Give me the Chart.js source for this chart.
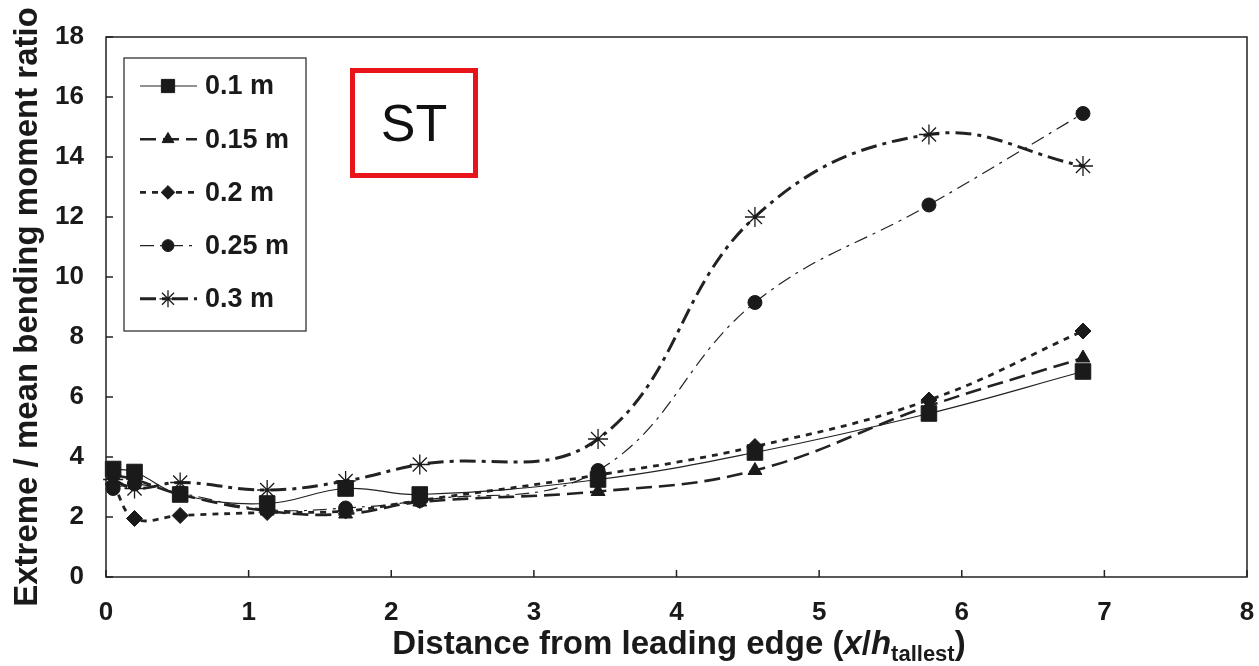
<!DOCTYPE html>
<html>
<head>
<meta charset="utf-8">
<script src="https://cdn.jsdelivr.net/npm/chart.js@4.4.0/dist/chart.umd.min.js"></script>
<style>
    html, body { margin: 0; padding: 0; background: #fff; }
    #contenedor { position: relative; width: 1259px; height: 666px; }
    #xtitulo {
        position: absolute; left: 106px; width: 1146px; top: 624px;
        text-align: center; line-height: 36px;
        font: bold 33px "Liberation Sans", Arial, sans-serif; color: #1a1a1a;
    }
    #xtitulo sub { font-size: 22px; position: relative; top: 7px; vertical-align: baseline; }
    #etiquetaST {
        position: absolute; left: 350px; top: 68px; width: 128px; height: 110px;
        box-sizing: border-box; border: 5px solid #e8141a;
        display: flex; align-items: center; justify-content: center;
        font: 52px "Liberation Sans", Arial, sans-serif; color: #111;
    }
</style>
</head>
<body>
<div id="contenedor">
    <canvas id="grafica" width="1259" height="666"></canvas>
    <div id="xtitulo">Distance from leading edge (<i>x</i>/<i>h</i><sub>tallest</sub>)</div>
    <div id="etiquetaST">ST</div>
</div>
<script>
// Datos
const distancias = [0.05, 0.2, 0.52, 1.13, 1.68, 2.2, 3.45, 4.55, 5.77, 6.85];
const serie01 = [3.6, 3.5, 2.75, 2.45, 2.95, 2.75, 3.25, 4.15, 5.45, 6.85];
const serie015 = [3.4, 3.25, 2.75, 2.2, 2.1, 2.5, 2.85, 3.55, 5.7, 7.3];
const serie02 = [3.1, 1.95, 2.05, 2.15, 2.2, 2.55, 3.4, 4.35, 5.9, 8.2];
const serie025 = [2.95, 3.1, 2.8, 2.25, 2.3, 2.55, 3.55, 9.15, 12.4, 15.45];
const serie03 = [3.25, 2.95, 3.15, 2.9, 3.2, 3.75, 4.6, 12.0, 14.75, 13.7];
const etiquetas = ['0.1 m', '0.15 m', '0.2 m', '0.25 m', '0.3 m'];
const ticksX = [0, 1, 2, 3, 4, 5, 6, 7, 8];
const ticksY = [0, 2, 4, 6, 8, 10, 12, 14, 16, 18];

const fuente = '"Liberation Sans", Arial, sans-serif';
Chart.defaults.font.family = fuente;
Chart.defaults.color = '#1a1a1a';

const estilos = [
    { punto: 'rect', radio: 11, ancho: 1.2, guiones: [], borde: 1 },
    { punto: 'triangle', radio: 8, ancho: 2.6, guiones: [16, 7], borde: 1 },
    { punto: 'rectRot', radio: 8, ancho: 2.8, guiones: [6, 6], borde: 1 },
    { punto: 'circle', radio: 7, ancho: 1.2, guiones: [14, 6, 3, 6], borde: 1 },
    { punto: 'star', radio: 10, ancho: 3, guiones: [16, 6, 4, 6], borde: 1.3 }
];
const series = [serie01, serie015, serie02, serie025, serie03];

const conjuntos = series.map((valores, i) => ({
    label: etiquetas[i],
    data: distancias.map((d, k) => ({ x: d, y: valores[k] })),
    borderColor: '#222',
    backgroundColor: '#1a1a1a',
    borderWidth: estilos[i].ancho,
    borderDash: estilos[i].guiones,
    pointStyle: estilos[i].punto,
    pointRadius: estilos[i].radio,
    pointBorderWidth: estilos[i].borde,
    pointBorderColor: '#1a1a1a',
    pointBackgroundColor: '#1a1a1a',
    tension: 0.4,
    clip: false
}));

const marcoPlugin = {
    id: 'marco',
    afterDraw(chart) {
        const { ctx, chartArea: a, scales } = chart;
        ctx.save();
        ctx.strokeStyle = '#222';
        ctx.lineWidth = 1.5;
        ctx.setLineDash([]);
        ctx.strokeRect(a.left, a.top, a.right - a.left, a.bottom - a.top);

        // marcas hacia dentro
        ctx.beginPath();
        ticksX.forEach(v => {
            const px = scales.x.getPixelForValue(v);
            ctx.moveTo(px, a.bottom);
            ctx.lineTo(px, a.bottom - 7);
        });
        ticksY.forEach(v => {
            const py = scales.y.getPixelForValue(v);
            ctx.moveTo(a.left, py);
            ctx.lineTo(a.left + 7, py);
        });
        ctx.stroke();

        // leyenda
        const lx = a.left + 18, ly = a.top + 21;
        ctx.lineWidth = 1.3;
        ctx.strokeStyle = '#333';
        ctx.strokeRect(lx, ly, 182, 273);
        etiquetas.forEach((texto, i) => {
            const cy = ly + 28 + i * 53.2;
            const e = estilos[i];
            ctx.strokeStyle = '#222';
            ctx.lineWidth = e.ancho;
            ctx.setLineDash(e.guiones);
            ctx.beginPath();
            ctx.moveTo(lx + 16, cy);
            ctx.lineTo(lx + 73, cy);
            ctx.stroke();
            ctx.setLineDash([]);
            ctx.fillStyle = '#1a1a1a';
            ctx.strokeStyle = '#1a1a1a';
            ctx.lineWidth = e.borde;
            Chart.helpers.drawPoint(ctx, {
                pointStyle: e.punto,
                radius: e.radio * 0.85,
                rotation: 0,
                borderWidth: e.borde
            }, lx + 44, cy);
            ctx.font = 'bold 27px ' + fuente;
            ctx.textBaseline = 'middle';
            ctx.textAlign = 'left';
            ctx.fillText(texto, lx + 81, cy + 1);
        });
        ctx.restore();
    }
};

new Chart(document.getElementById('grafica'), {
    type: 'line',
    data: { datasets: conjuntos },
    options: {
        responsive: false,
        animation: false,
        layout: { padding: { top: 37, right: 1, left: 0, bottom: 0 } },
        plugins: {
            legend: { display: false },
            tooltip: { enabled: false }
        },
        scales: {
            x: {
                type: 'linear',
                min: 0,
                max: 8,
                afterFit: s => { s.height = 89; s.paddingLeft = 0; s.paddingRight = 0; },
                afterBuildTicks: s => { s.ticks = ticksX.map(v => ({ value: v })); },
                grid: { display: false },
                border: { display: false },
                ticks: { font: { size: 26, weight: 'bold' }, padding: 12, color: '#1a1a1a' },
                title: { display: false }
            },
            y: {
                min: 0,
                max: 18,
                afterFit: s => { s.width = 106; s.paddingTop = 0; s.paddingBottom = 0; },
                afterBuildTicks: s => { s.ticks = ticksY.map(v => ({ value: v })); },
                grid: { display: false },
                border: { display: false },
                ticks: { font: { size: 26, weight: 'bold' }, padding: 14, color: '#1a1a1a' },
                title: {
                    display: true,
                    text: 'Extreme / mean bending moment ratio',
                    font: { size: 33, weight: 'bold' },
                    color: '#1a1a1a',
                    padding: { top: 8, bottom: 0 }
                }
            }
        }
    },
    plugins: [marcoPlugin]
});
</script>
</body>
</html>
